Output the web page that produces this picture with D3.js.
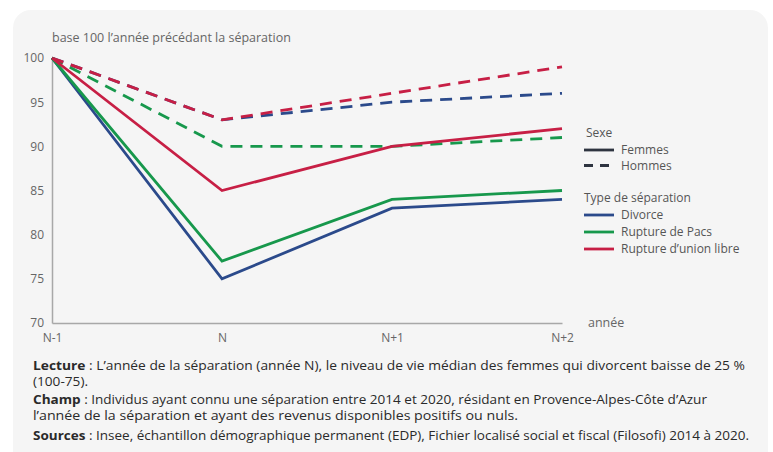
<!DOCTYPE html>
<html>
<head>
<meta charset="utf-8">
<script src="https://cdn.jsdelivr.net/npm/d3@7"></script>
<style>
  body { margin: 0; background: #fff; }
  svg text { font-family: "Open Sans", "Noto Sans", sans-serif; }
</style>
</head>
<body>
<div id="chart"></div>
<script>
// years on the x axis
const annees = ["N-1", "N", "N+1", "N+2"];
const yTicks = [70, 75, 80, 85, 90, 95, 100];

// niveau de vie, base 100
const femmesDivorce = [100, 75, 83, 84];
const femmesPacs = [100, 77, 84, 85];
const femmesUnionLibre = [100, 85, 90, 92];
const hommesDivorce = [100, 93, 95, 96];
const hommesPacs = [100, 90, 90, 91];
const hommesUnionLibre = [100, 93, 96, 99];

const typesSeparation = ["Divorce", "Rupture de Pacs", "Rupture d\u2019union libre"];
const sexes = ["Femmes", "Hommes"];

const colors = {"Divorce": "#2b4a8b", "Rupture de Pacs": "#17984c", "Rupture d\u2019union libre": "#c71f45"};

const series = [
  {sexe: "Hommes", type: "Divorce", values: hommesDivorce},
  {sexe: "Hommes", type: "Rupture de Pacs", values: hommesPacs},
  {sexe: "Hommes", type: "Rupture d\u2019union libre", values: hommesUnionLibre},
  {sexe: "Femmes", type: "Divorce", values: femmesDivorce},
  {sexe: "Femmes", type: "Rupture de Pacs", values: femmesPacs},
  {sexe: "Femmes", type: "Rupture d\u2019union libre", values: femmesUnionLibre}
];

const notes = [
  {bold: "Lecture", text: " : L\u2019ann\u00e9e de la s\u00e9paration (ann\u00e9e N), le niveau de vie m\u00e9dian des femmes qui divorcent baisse de 25 %", len: 712},
  {bold: "", text: "(100-75).", len: 55},
  {bold: "Champ", text: " : Individus ayant connu une s\u00e9paration entre 2014 et 2020, r\u00e9sidant en Provence-Alpes-C\u00f4te d\u2019Azur", len: 674},
  {bold: "", text: "l\u2019ann\u00e9e de la s\u00e9paration et ayant des revenus disponibles positifs ou nuls.", len: 485},
  {bold: "Sources", text: " : Insee, \u00e9chantillon d\u00e9mographique permanent (EDP), Fichier localis\u00e9 social et fiscal (Filosofi) 2014 \u00e0 2020.", len: 716}
];

const W = 773, H = 452;
const plot = {left: 52, right: 562, top: 58, bottom: 323};

const svg = d3.select("#chart").append("svg")
  .attr("width", W)
  .attr("height", H);

// grey card
svg.append("rect")
  .attr("x", 13).attr("y", 10)
  .attr("width", 755).attr("height", 470)
  .attr("rx", 18)
  .attr("fill", "#f5f5f5");

const x = d3.scalePoint().domain(annees).range([plot.left, plot.right]);
const y = d3.scaleLinear().domain([70, 100]).range([plot.bottom, plot.top]);

// axes
const yAxis = svg.append("g")
  .attr("transform", "translate(" + plot.left + ",0)")
  .call(d3.axisLeft(y).tickValues(yTicks).tickSize(0).tickPadding(8));
yAxis.select(".domain").attr("stroke", "#a8a8a8").attr("stroke-width", 1.5);
yAxis.selectAll("text").attr("fill", "#666").style("font-size", "12px");

const xAxis = svg.append("g")
  .attr("transform", "translate(0," + plot.bottom + ")")
  .call(d3.axisBottom(x).tickSize(0).tickPadding(10));
xAxis.select(".domain").attr("stroke", "#a8a8a8").attr("stroke-width", 1.5);
xAxis.selectAll("text").attr("fill", "#666").style("font-size", "12px");

svg.append("text")
  .attr("x", plot.left)
  .attr("y", 42)
  .attr("fill", "#666")
  .style("font-size", "12.5px")
  .text("base 100 l\u2019ann\u00e9e pr\u00e9c\u00e9dant la s\u00e9paration");

svg.append("text")
  .attr("x", 588)
  .attr("y", 327)
  .attr("fill", "#666")
  .style("font-size", "12.5px")
  .text("ann\u00e9e");

// lines
const line = d3.line()
  .x((d, i) => x(annees[i]))
  .y(d => y(d));

svg.selectAll("path.serie")
  .data(series)
  .enter()
  .append("path")
  .attr("class", "serie")
  .attr("fill", "none")
  .attr("stroke", d => colors[d.type])
  .attr("stroke-width", 2.8)
  .attr("stroke-dasharray", d => d.sexe === "Hommes" ? "12,8" : null)
  .attr("d", d => line(d.values));

// legend
const leg = svg.append("g").attr("transform", "translate(584,0)");
const legTxt = (t, yy, xx) => leg.append("text")
  .attr("x", xx).attr("y", yy)
  .attr("fill", "#555")
  .style("font-size", "12px")
  .text(t);

legTxt("Sexe", 137, 2);
sexes.forEach((s, i) => {
  const yy = 150 + i * 15.5;
  leg.append("line")
    .attr("x1", 0).attr("x2", 30).attr("y1", yy).attr("y2", yy)
    .attr("stroke", "#2e3440").attr("stroke-width", 2.8)
    .attr("stroke-dasharray", s === "Hommes" ? "9,7" : null);
  legTxt(s, yy + 4, 37);
});

legTxt("Type de s\u00e9paration", 202, 0);
typesSeparation.forEach((t, i) => {
  const yy = 215 + i * 17;
  leg.append("line")
    .attr("x1", 0).attr("x2", 30).attr("y1", yy).attr("y2", yy)
    .attr("stroke", colors[t]).attr("stroke-width", 2.8);
  legTxt(t, yy + 4, 37);
});

// notes under the chart
const noteY = [370, 386, 404, 420, 440];
notes.forEach((n, i) => {
  const t = svg.append("text")
    .attr("x", 33)
    .attr("y", noteY[i])
    .attr("fill", "#2a2a2a")
    .style("font-size", "12.5px")
    .attr("textLength", n.len)
    .attr("lengthAdjust", "spacingAndGlyphs");
  if (n.bold) t.append("tspan").attr("font-weight", "bold").text(n.bold);
  t.append("tspan").text(n.text);
});
</script>
</body>
</html>
